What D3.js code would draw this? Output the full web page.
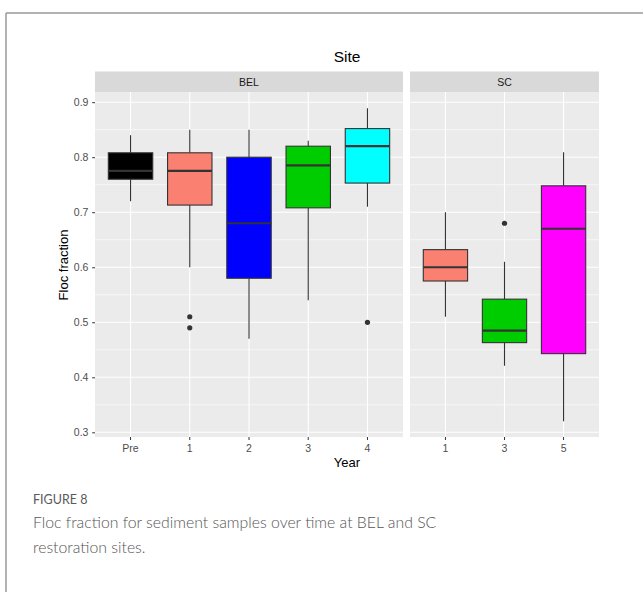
<!DOCTYPE html>
<html><head><meta charset="utf-8">
<script src="https://cdn.jsdelivr.net/npm/d3@7"></script>
<style>body{margin:0;background:#fff;} svg{display:block;}</style>
</head><body>
<div id="chart"></div>
<script>
// ---- data ----
const belYears = ["Pre","1","2","3","4"];
const scYears = ["1","3","5"];
// [whiskerLow, q1, median, q3, whiskerHigh]
const belStats = [
  [0.72, 0.760, 0.775, 0.808, 0.84],
  [0.60, 0.713, 0.775, 0.808, 0.85],
  [0.47, 0.580, 0.680, 0.800, 0.85],
  [0.54, 0.708, 0.785, 0.820, 0.83],
  [0.71, 0.753, 0.820, 0.852, 0.889]
];
const belOutliers = [[], [0.51, 0.49], [], [], [0.50]];
const scStats = [
  [0.51, 0.575, 0.600, 0.632, 0.70],
  [0.421, 0.463, 0.485, 0.542, 0.61],
  [0.32, 0.443, 0.670, 0.748, 0.809]
];
const scOutliers = [[], [0.68], []];
const yearColors = {"Pre":"#000000","1":"#FA8072","2":"#0000FF","3":"#00CD00","4":"#00FFFF","5":"#FF00FF"};
const yTicks = [0.3,0.4,0.5,0.6,0.7,0.8,0.9];

(function(){
const W=643,H=592;
const FF="Liberation Sans, Arial, sans-serif";
const svg=d3.select("#chart").append("svg").attr("width",W).attr("height",H);

// frame
svg.append("line").attr("x1",6).attr("x2",W).attr("y1",13).attr("y2",13).attr("stroke","#999").attr("stroke-width",1.5);
svg.append("line").attr("x1",6).attr("x2",6).attr("y1",13).attr("y2",H).attr("stroke","#999").attr("stroke-width",1.5);

const pTop=92,pBottom=437;
const y=d3.scaleLinear().domain([0.2915,0.9185]).range([pBottom,pTop]);

const panels=[
  {name:"BEL",cats:belYears,stats:belStats,outs:belOutliers,x0:95,x1:403},
  {name:"SC",cats:scYears,stats:scStats,outs:scOutliers,x0:410,x1:599}
];

panels.forEach(p=>{
  const n=p.cats.length;
  const xl=d3.scaleLinear().domain([0.4,n+0.6]).range([p.x0,p.x1]);
  const unit=xl(1)-xl(0);
  const g=svg.append("g");
  g.append("rect").attr("x",p.x0).attr("y",pTop).attr("width",p.x1-p.x0).attr("height",pBottom-pTop).attr("fill","#EBEBEB");
  // strip
  g.append("rect").attr("x",p.x0).attr("y",71.5).attr("width",p.x1-p.x0).attr("height",pTop-71.5).attr("fill","#D9D9D9");
  g.append("text").attr("x",(p.x0+p.x1)/2).attr("y",85.8).attr("text-anchor","middle")
    .attr("font-family",FF).attr("font-size",10.5).attr("fill","#1A1A1A").text(p.name);
  // minor grid
  const minor=d3.range(yTicks.length-1).map(i=>(yTicks[i]+yTicks[i+1])/2);
  g.selectAll(".mn").data(minor).enter().append("line")
    .attr("x1",p.x0).attr("x2",p.x1).attr("y1",d=>y(d)).attr("y2",d=>y(d)).attr("stroke","#fff").attr("stroke-width",0.6);
  g.selectAll(".mj").data(yTicks).enter().append("line")
    .attr("x1",p.x0).attr("x2",p.x1).attr("y1",d=>y(d)).attr("y2",d=>y(d)).attr("stroke","#fff").attr("stroke-width",1.1);
  g.selectAll(".vx").data(p.cats).enter().append("line")
    .attr("x1",(d,i)=>xl(i+1)).attr("x2",(d,i)=>xl(i+1)).attr("y1",pTop).attr("y2",pBottom).attr("stroke","#fff").attr("stroke-width",1.1);
  // boxes
  p.stats.forEach((s,i)=>{
    const cx=xl(i+1), bw=0.75*unit;
    const col=yearColors[p.cats[i]];
    g.append("line").attr("x1",cx).attr("x2",cx).attr("y1",y(s[4])).attr("y2",y(s[3])).attr("stroke","#333").attr("stroke-width",1.1);
    g.append("line").attr("x1",cx).attr("x2",cx).attr("y1",y(s[1])).attr("y2",y(s[0])).attr("stroke","#333").attr("stroke-width",1.1);
    g.append("rect").attr("x",cx-bw/2).attr("y",y(s[3])).attr("width",bw).attr("height",y(s[1])-y(s[3]))
      .attr("fill",col).attr("stroke","#333").attr("stroke-width",1.1);
    g.append("line").attr("x1",cx-bw/2).attr("x2",cx+bw/2).attr("y1",y(s[2])).attr("y2",y(s[2])).attr("stroke","#333").attr("stroke-width",2.2);
    p.outs[i].forEach(o=>{
      g.append("circle").attr("cx",cx).attr("cy",y(o)).attr("r",2.6).attr("fill","#333");
    });
  });
  // x axis
  const xa=g.append("g");
  p.cats.forEach((c,i)=>{
    xa.append("line").attr("x1",xl(i+1)).attr("x2",xl(i+1)).attr("y1",pBottom).attr("y2",pBottom+3).attr("stroke","#333").attr("stroke-width",1);
    xa.append("text").attr("x",xl(i+1)).attr("y",452).attr("text-anchor","middle")
      .attr("font-family",FF).attr("font-size",10.5).attr("fill","#4D4D4D").text(c);
  });
});

// y axis
const ya=svg.append("g").attr("transform","translate(95,0)")
  .call(d3.axisLeft(y).tickValues(yTicks).tickSize(2.8).tickPadding(3.8).tickFormat(d3.format(".1f")));
ya.select(".domain").remove();
ya.selectAll(".tick line").attr("stroke","#333");
ya.selectAll(".tick text").attr("font-family",FF).attr("font-size",10.5).attr("fill","#4D4D4D");

// titles
svg.append("text").attr("x",347).attr("y",61.5).attr("text-anchor","middle")
  .attr("font-family",FF).attr("font-size",15.5).attr("fill","#000").text("Site");
svg.append("text").attr("x",347).attr("y",467).attr("text-anchor","middle")
  .attr("font-family",FF).attr("font-size",13).attr("fill","#000").text("Year");
svg.append("text").attr("transform","translate(68,265) rotate(-90)").attr("text-anchor","middle")
  .attr("font-family",FF).attr("font-size",13).attr("fill","#000").text("Floc fraction");

// caption
svg.append("text").attr("x",33).attr("y",504).attr("font-family","Lato, sans-serif").attr("font-size",12.5)
  .attr("fill","#5a5a5a").text("FIGURE 8");
const cap=svg.append("text").attr("font-family","Lato, sans-serif").attr("font-weight",300).attr("font-size",15.8).attr("fill","#555");
cap.append("tspan").attr("x",33).attr("y",528).text("Floc fraction for sediment samples over time at BEL and SC");
cap.append("tspan").attr("x",33).attr("y",553).text("restoration sites.");
})();
</script>
</body></html>
